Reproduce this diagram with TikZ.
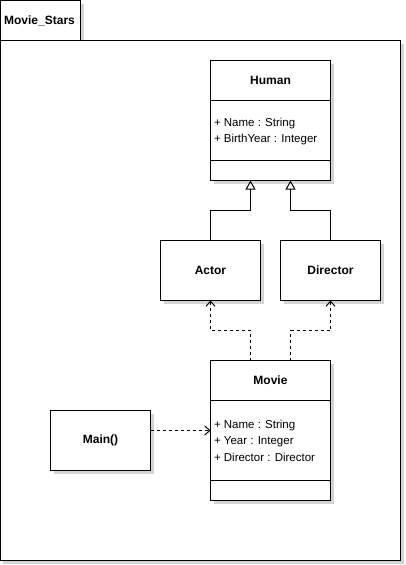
\documentclass[tikz,border=0pt]{standalone}
\usepackage{fontspec}
\setmainfont{Liberation Sans}
\usetikzlibrary{shadows,arrows.meta}
\begin{document}
\begin{tikzpicture}[x=1pt,y=-1pt,line width=1pt,
  every node/.style={font=\fontsize{11.5}{13}\selectfont},
  shad/.style={drop shadow={shadow xshift=3pt,shadow yshift=-3pt,fill=black!17,opacity=1}},
  box/.style={draw,fill=white,shad,inner sep=0pt,outer sep=0pt},
  ttl/.style={font=\fontsize{12}{14}\selectfont\bfseries},
  attr/.style={anchor=west,inner sep=0pt,font=\fontsize{11.5}{13}\selectfont},
  inh/.style={-{Triangle[open,length=9pt,width=10pt]}},
  dep/.style={dash pattern=on 3pt off 3pt,-{Straight Barb[length=5pt,width=9pt]}}]
\useasboundingbox (-0.5,-0.5) rectangle (404.5,564.5);
% package
\node[box,minimum width=80pt,minimum height=40pt,anchor=north west] (tab) at (0,0) {};
\node[box,minimum width=400pt,minimum height=520pt,anchor=north west] (pkg) at (0,40) {};
\node[ttl] (pkgname) at (39,20) {Movie\_Stars};
% Human
\node[box,minimum width=120pt,minimum height=120pt,anchor=north west] (human) at (210,60) {};
\node[ttl] (humant) at (270,80) {Human};
\draw (210,100) -- (330,100);
\draw (210,160) -- (330,160);
\node[attr] (ha1) at (213,123) {+ Name : String};
\node[attr] (ha2) at (213,139) {+ BirthYear : Integer};
% Actor / Director
\node[box,minimum width=100pt,minimum height=60pt,ttl] (actor) at (210,270) {Actor};
\node[box,minimum width=100pt,minimum height=60pt,ttl] (director) at (330,270) {Director};
% Movie
\node[box,minimum width=120pt,minimum height=140pt,anchor=north west] (movie) at (210,360) {};
\node[ttl] (moviet) at (270,380) {Movie};
\draw (210,400) -- (330,400);
\draw (210,480) -- (330,480);
\node[attr] (ma1) at (213,425) {+ Name : String};
\node[attr] (ma2) at (213,441) {+ Year : Integer};
\node[attr] (ma3) at (213,457) {+ Director : Director};
% Main
\node[box,minimum width=100pt,minimum height=60pt,ttl] (main) at (100,440) {Main()};
% connectors
\draw[inh] (actor.north) -- ++(0,-30) -| ([xshift=-20pt]human.south);
\draw[inh] (director.north) -- ++(0,-30) -| ([xshift=20pt]human.south);
\draw[dep] ([xshift=-20pt]movie.north) -- ++(0,-30) -| (actor.south);
\draw[dep] ([xshift=20pt]movie.north) -- ++(0,-30) -| (director.south);
\coordinate (mainout) at ([yshift=10pt]main.east);
\draw[dep] (mainout) -- (mainout -| movie.west);
\end{tikzpicture}
\end{document}
